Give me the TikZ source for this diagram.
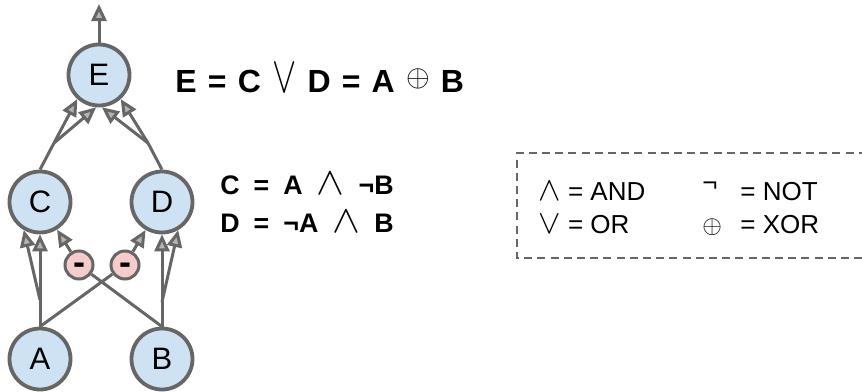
\documentclass[tikz,border=0pt]{standalone}
\usepackage{fontspec}
\setmainfont{Liberation Sans}
\definecolor{NodeBlue}{HTML}{CFE2F3}
\definecolor{MinusPink}{HTML}{F4CCCC}
\definecolor{EdgeGray}{HTML}{666666}
\definecolor{TipGray}{HTML}{B4B4B4}
\usetikzlibrary{arrows.meta}
\newcommand{\eqgap}{\hspace{7pt}}
\newcommand{\titlegap}{\hspace{5.6pt}}
\newcommand{\bigor}{\scalebox{1.05}[1.5]{$\vee$}}
\newcommand{\bigand}{\scalebox{1.45}[1.35]{$\wedge$}}
\tikzset{
  neuron/.style={circle, draw=EdgeGray, line width=1.9pt, fill=NodeBlue, minimum size=30.5pt, inner sep=0pt, font=\fontsize{15.5}{18}\selectfont},
  negnode/.style={circle, draw=EdgeGray, line width=1.5pt, fill=MinusPink, minimum size=14pt, inner sep=0pt, text height=0.5em, text depth=0pt, font=\fontsize{18}{18}\selectfont\bfseries},
  wire/.style={draw=EdgeGray, line width=1.5pt},
  inarrow/.style={wire, -{Triangle[length=8.5pt, width=7.5pt, fill=TipGray]}},
  eqtitle/.style={anchor=base west, inner sep=0pt, font=\fontsize{16}{19}\selectfont\bfseries},
  eqline/.style={anchor=base west, inner sep=0pt, font=\fontsize{13.4}{16}\selectfont\bfseries},
  legtext/.style={anchor=base west, inner sep=0pt, font=\fontsize{13}{16}\selectfont},
  legendbox/.style={draw=EdgeGray, line width=0.9pt, dash pattern=on 4pt off 2.6pt}
}
\begin{document}
\begin{tikzpicture}[x=0.5pt, y=-0.5pt]
\useasboundingbox (0,0) rectangle (862,391);
% neurons
\node[neuron] (A) at (40,359) {A};
\node[neuron] (B) at (162,359) {B};
\node[neuron] (C) at (40,202) {C};
\node[neuron] (D) at (162,202) {D};
\node[neuron] (E) at (99,75) {E};
\node[negnode] (m1) at (79,265) {\raisebox{-2.4pt}{-}};
\node[negnode] (m2) at (125,265) {\raisebox{-2.4pt}{-}};
\coordinate (brA) at (40,300);
\coordinate (brB) at (162,302);
\coordinate (brC) at (54,143);
\coordinate (brD) at (148,143);
\coordinate (out) at (99,4);
% first layer
\draw[wire] (A.north) -- (brA);
\draw[inarrow] (brA) -- (C);
\draw[inarrow] (brA) -- (C.240);
\draw[wire] (A.north) -- (m2);
\draw[inarrow] (m2) -- (D);
\draw[wire] (B.north) -- (brB);
\draw[inarrow] (brB) -- (D);
\draw[inarrow] (brB) -- (D.300);
\draw[wire] (B.north) -- (m1);
\draw[inarrow] (m1) -- (C);
% second layer
\draw[wire] (C.north) -- (brC);
\draw[inarrow] (brC) -- (E.228);
\draw[inarrow] (brC) -- (E.265);
\draw[wire] (D.north) -- (brD);
\draw[inarrow] (brD) -- (E.312);
\draw[inarrow] (brD) -- (E.275);
\draw[inarrow] (E) -- (out);
% equations
\node[eqtitle] (eqE) at (175,92) {E\titlegap=\titlegap C\titlegap\bigor\titlegap D\titlegap=\titlegap A\titlegap\raisebox{3pt}{\scalebox{0.88}{$\oplus$}}\titlegap B};
\node[eqline] (eqC) at (220,194) {C\eqgap=\eqgap A\eqgap\bigand\eqgap ¬B};
\node[eqline] (eqD) at (220,232) {D\eqgap=\eqgap ¬A\eqgap\bigand\eqgap B};
% legend
\draw[legendbox] (880,153) -- (517,153) -- (517,258) -- (880,258);
\node[legtext] (legAnd) at (538,200) {\scalebox{1.4}{$\wedge$} = AND};
\node[legtext] (legOr) at (538,233) {\scalebox{1.4}{$\vee$} = OR};
\node[legtext] (legNot) at (702,200) {\makebox[19pt][l]{\raisebox{4.5pt}{¬}}= NOT};
\node[legtext] (legXor) at (702,233) {\makebox[19pt][l]{\scalebox{1.05}{$\oplus$}}= XOR};
\end{tikzpicture}
\end{document}
